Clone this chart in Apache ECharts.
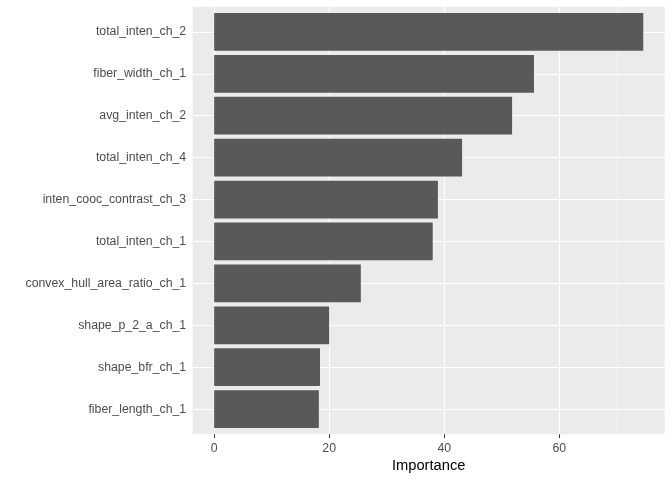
<!DOCTYPE html>
<html>
<head>
<meta charset="utf-8">
<script src="https://cdn.jsdelivr.net/npm/echarts@6/dist/echarts.min.js"></script>
<style>
  html, body { margin: 0; padding: 0; background: #fff; }
  #chart { width: 672px; height: 480px; }
</style>
</head>
<body>
<div id="chart"></div>
<script>
const features = [
  "total_inten_ch_2",
  "fiber_width_ch_1",
  "avg_inten_ch_2",
  "total_inten_ch_4",
  "inten_cooc_contrast_ch_3",
  "total_inten_ch_1",
  "convex_hull_area_ratio_ch_1",
  "shape_p_2_a_ch_1",
  "shape_bfr_ch_1",
  "fiber_length_ch_1"
];
const importance = [74.6, 55.6, 51.8, 43.1, 38.9, 38.0, 25.5, 20.0, 18.4, 18.2];
const majorTicks = [0, 20, 40, 60];
const minorTicks = [10, 30, 50, 70];

// ggplot-like expansion of the value range (5% each side)
const dataMax = Math.max(...importance);
const pad = dataMax * 0.05;
const xMin = -pad;
const xMax = dataMax + pad;

// panel geometry
const panelLeft = 192.7;
const panelTop = 6.7;
const panelW = 472;
const panelH = 427.6;
const pxPerUnit = panelW / (xMax - xMin);
const zeroX = panelLeft - xMin * pxPerUnit;
// discrete axis: 0.6 of a band added on each end
const band = panelH / (features.length - 1 + 1.2);

const font = "'Liberation Sans', Arial, sans-serif";
const majorLast = majorTicks[majorTicks.length - 1];
const minorLast = minorTicks[minorTicks.length - 1];

const chart = echarts.init(document.getElementById("chart"));
chart.setOption({
  animation: false,
  backgroundColor: "#ffffff",
  grid: [
    // panel background
    { left: panelLeft, top: panelTop, width: panelW, height: panelH, show: true,
      backgroundColor: "#EBEBEB", borderWidth: 0, containLabel: false },
    // minor vertical grid lines
    { left: zeroX, top: panelTop, width: minorLast * pxPerUnit, height: panelH, containLabel: false },
    // major vertical grid lines + tick labels
    { left: zeroX, top: panelTop, width: majorLast * pxPerUnit, height: panelH, containLabel: false },
    // bars
    { left: panelLeft, top: panelTop + band * 0.1, width: panelW, height: band * features.length, containLabel: false }
  ],
  xAxis: [
    {
      gridIndex: 0, type: "value", min: xMin, max: xMax,
      name: "Importance", nameLocation: "middle", nameGap: 24,
      nameTextStyle: { color: "#000000", fontSize: 14.7, fontFamily: font },
      axisLine: { show: false }, axisTick: { show: false },
      axisLabel: { show: false }, splitLine: { show: false }
    },
    {
      gridIndex: 1, type: "value", min: 0, max: minorLast, interval: minorTicks[1] - minorTicks[0],
      axisLine: { show: false }, axisTick: { show: false }, axisLabel: { show: false },
      splitLine: { show: true, lineStyle: { color: "#ffffff", width: 0.55 } }
    },
    {
      gridIndex: 2, type: "value", min: 0, max: majorLast, interval: majorTicks[1] - majorTicks[0],
      axisLine: { show: false },
      axisTick: { show: true, length: 3.7, lineStyle: { color: "#333333", width: 1.07 } },
      axisLabel: { show: true, margin: 8.5, color: "#4D4D4D", fontSize: 12.3, fontFamily: font },
      splitLine: { show: true, lineStyle: { color: "#ffffff", width: 1.1 } }
    },
    {
      gridIndex: 3, type: "value", min: xMin, max: xMax, show: false
    }
  ],
  yAxis: [
    { gridIndex: 0, type: "value", min: 0, max: 1, show: false },
    { gridIndex: 1, type: "value", min: 0, max: 1, show: false },
    { gridIndex: 2, type: "value", min: 0, max: 1, show: false },
    {
      gridIndex: 3, type: "category", inverse: true, data: features,
      axisLine: { show: false },
      axisTick: { show: true, alignWithLabel: true, length: 3.7, lineStyle: { color: "#333333", width: 1.07 } },
      axisLabel: { margin: 6.5, color: "#4D4D4D", fontSize: 12.3, fontFamily: font },
      splitLine: { show: false }
    }
  ],
  series: [
    {
      type: "bar",
      xAxisIndex: 3,
      yAxisIndex: 3,
      data: importance,
      barWidth: "90%",
      itemStyle: { color: "#595959" },
      z: 2,
      markLine: {
        silent: true,
        z: 1,
        symbol: ["none", "none"],
        label: { show: false },
        lineStyle: { color: "#ffffff", width: 1.1, type: "solid" },
        emphasis: { disabled: true },
        data: features.map(f => ({ yAxis: f }))
      }
    }
  ]
});
</script>
</body>
</html>
